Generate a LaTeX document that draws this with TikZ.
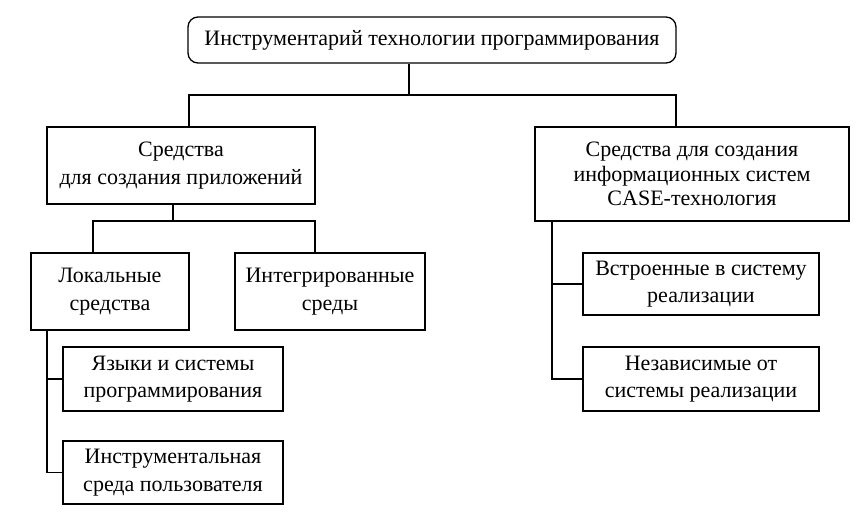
\documentclass[tikz,border=0pt]{standalone}
\usepackage{fontspec}
\setmainfont{Liberation Serif}
\begin{document}
\begin{tikzpicture}[x=1pt,y=-1pt,
  box/.style={draw, line width=1.3pt, inner sep=0pt, align=center,
    font=\fontsize{22}{27.5}\selectfont},
  conn/.style={line width=1.3pt}]
\useasboundingbox (0,0) rectangle (856,514);
\node[box, rounded corners=10pt, minimum width=488pt, minimum height=46pt] (top) at (432,40) {Инструментарий технологии программирования};
\node[box, minimum width=268pt, minimum height=77pt] (A) at (181,165.5) {Средства\\для создания приложений};
\node[box, minimum width=314pt, minimum height=94pt, font=\fontsize{22}{24.5}\selectfont] (B) at (692,174) {Средства для создания\\информационных систем\\CASE-технология};
\node[box, minimum width=158pt, minimum height=77pt] (L) at (110,291.5) {Локальные\\средства};
\node[box, minimum width=190pt, minimum height=77pt] (I) at (330,291.5) {Интегрированные\\среды};
\node[box, minimum width=220pt, minimum height=64pt] (L1) at (173,379) {Языки и системы\\программирования};
\node[box, minimum width=220pt, minimum height=63pt] (L2) at (173,472.5) {Инструментальная\\среда пользователя};
\node[box, minimum width=236pt, minimum height=62pt] (R1) at (701,284) {Встроенные в систему\\реализации};
\node[box, minimum width=236pt, minimum height=64pt] (R2) at (701,379) {Независимые от\\системы реализации};
\coordinate (t0) at (409,95);
\coordinate (b1) at (189,95);
\coordinate (b2) at (676,95);
\coordinate (a0) at (173,221);
\coordinate (c1) at (93,221);
\coordinate (c2) at (315,221);
\coordinate (sl) at (47,0);
\coordinate (sr) at (552,0);
\draw[conn] (top.south -| t0) -- (t0);
\draw[conn] (A.north -| b1) -- (b1) -- (b2) -- (B.north -| b2);
\draw[conn] (A.south -| a0) -- (a0);
\draw[conn] (L.north -| c1) -- (c1) -- (c2) -- (I.north -| c2);
\draw[conn] (L.south -| sl) |- (L2.west);
\draw[conn] (sl |- L1.west) -- (L1.west);
\draw[conn] (B.south -| sr) |- (R2.west);
\draw[conn] (sr |- R1.west) -- (R1.west);
\end{tikzpicture}
\end{document}
